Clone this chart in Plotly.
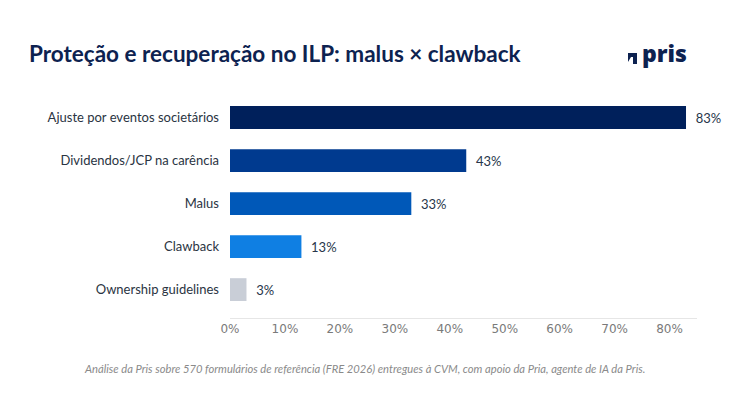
import plotly.graph_objects as go

categories = ["Ajuste por eventos societários", "Dividendos/JCP na carência", "Malus", "Clawback", "Ownership guidelines"]
values = [83, 43, 33, 13, 3]
bar_colors = ["#00205b", "#003a8f", "#0058b8", "#0f7fe3", "#c9ced7"]
tick_vals = [0, 10, 20, 30, 40, 50, 60, 70, 80]
tick_text = ["0%", "10%", "20%", "30%", "40%", "50%", "60%", "70%", "80%"]

W, H = 740, 393
L, R, T, B = 230, 43, 96, 75
PW, PH = W - L - R, H - T - B


def px(x):
    return (x - L) / PW


def py(y):
    return (H - B - y) / PH


fig = go.Figure()
fig.add_trace(go.Bar(
    y=categories, x=values, orientation="h",
    marker=dict(color=bar_colors, line=dict(width=0)),
    text=[f"  {v}%" for v in values], textposition="outside",
    textfont=dict(family="Lato", size=13, color="#27364a"),
    cliponaxis=False, width=0.53,
))

icon = [(628, 53), (637, 53), (637, 64), (633, 64), (633, 57), (631, 57), (628, 62)]
icon_path = "M " + " L ".join(f"{px(a):.5f} {py(b):.5f}" for a, b in icon) + " Z"

fig.update_layout(
    width=W, height=H,
    margin=dict(l=L, r=R, t=T, b=B),
    paper_bgcolor="white", plot_bgcolor="white",
    showlegend=False,
    xaxis=dict(range=[0, 85], tickvals=tick_vals, ticktext=tick_text,
               showgrid=False, zeroline=False, showline=True, linecolor="#e6e6e6", linewidth=1,
               ticks="", tickfont=dict(family="DejaVu Sans", size=12, color="#7a7a7a")),
    yaxis=dict(categoryorder="array", categoryarray=categories, range=[4.66, -0.5],
               showgrid=False, zeroline=False, ticks="", ticklabelstandoff=10,
               tickfont=dict(family="Lato", size=13, color="#2a3442")),
    annotations=[
        dict(text="<b>Proteção e recuperação no ILP: malus × clawback</b>", xref="paper", yref="paper",
             x=px(27), xanchor="left", y=1, yanchor="bottom", yshift=27,
             showarrow=False, font=dict(family="Lato", size=22.5, color="#0d2250")),
        dict(text="pris", xref="paper", yref="paper", x=px(640), xanchor="left",
             y=1, yanchor="bottom", yshift=25, showarrow=False,
             font=dict(family="Open Sans", size=23, weight=800, color="#0d2250")),
        dict(text="<i>Análise da Pris sobre 570 formulários de referência (FRE 2026) entregues à CVM, com apoio da Pria, agente de IA da Pris.</i>",
             xref="paper", yref="paper", x=px(364), xanchor="center", y=0, yanchor="top", yshift=-42,
             showarrow=False, font=dict(family="Lato", size=11.2, color="#8a8a8a")),
    ],
    shapes=[dict(type="path", xref="paper", yref="paper", path=icon_path,
                 fillcolor="#0d2250", line=dict(width=0))],
)

fig.write_html("out.html")
